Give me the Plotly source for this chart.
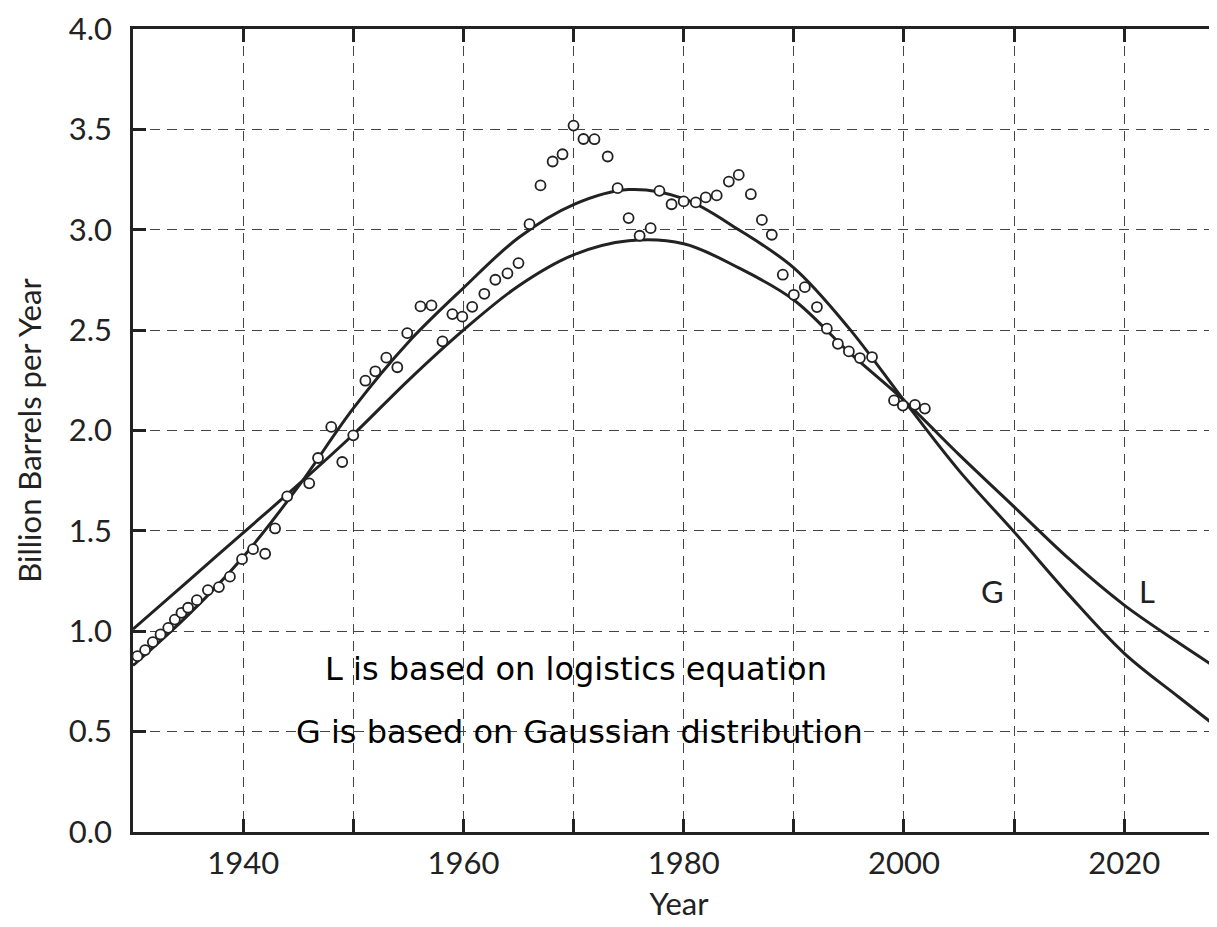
import plotly.graph_objects as go

obs_year = [1929.9, 1930.4, 1931.1, 1931.8, 1932.5, 1933.2, 1933.8, 1934.4, 1935.0, 1935.8,
            1936.8, 1937.8, 1938.8, 1939.9, 1940.9, 1942.0, 1942.9, 1944.0, 1946.0, 1946.8,
            1948.0, 1949.0, 1950.0, 1951.1, 1952.0, 1953.0, 1954.0, 1954.9, 1956.1, 1957.1,
            1958.1, 1959.0, 1959.9, 1960.8, 1961.9, 1962.9, 1964.0, 1965.0, 1966.0, 1967.0,
            1968.1, 1969.0, 1970.0, 1970.9, 1971.9, 1973.1, 1974.0, 1975.0, 1976.0, 1977.0,
            1977.8, 1978.9, 1980.0, 1981.1, 1982.0, 1983.0, 1984.1, 1985.0, 1986.1, 1987.1,
            1988.0, 1989.0, 1990.0, 1991.0, 1992.1, 1993.0, 1994.0, 1995.0, 1996.0, 1997.1,
            1999.1, 1999.9, 2001.0, 2001.9]
obs_prod = [0.86, 0.876, 0.906, 0.946, 0.984, 1.017, 1.058, 1.092, 1.117, 1.155,
            1.205, 1.22, 1.272, 1.359, 1.409, 1.386, 1.512, 1.672, 1.737, 1.863,
            2.018, 1.843, 1.976, 2.248, 2.295, 2.363, 2.315, 2.485, 2.618, 2.623,
            2.444, 2.58, 2.567, 2.616, 2.681, 2.751, 2.783, 2.834, 3.028, 3.221,
            3.34, 3.376, 3.519, 3.452, 3.451, 3.365, 3.207, 3.058, 2.97, 3.008,
            3.194, 3.127, 3.141, 3.136, 3.161, 3.171, 3.24, 3.273, 3.177, 3.049,
            2.975, 2.776, 2.676, 2.714, 2.615, 2.507, 2.432, 2.394, 2.361, 2.366,
            2.15, 2.124, 2.128, 2.109]

# fitted curves
fit_year = [1930, 1935, 1940, 1945, 1950, 1955, 1960, 1965, 1970, 1975, 1980,
            1985, 1990, 1995, 2000, 2005, 2010, 2015, 2020, 2025, 2029.3]
L_fit = [1.01, 1.25, 1.49, 1.73, 1.98, 2.25, 2.50, 2.72, 2.875, 2.945, 2.93,
         2.81, 2.65, 2.39, 2.15, 1.88, 1.62, 1.36, 1.13, 0.94, 0.785]
G_fit = [0.83, 1.08, 1.37, 1.72, 2.11, 2.44, 2.71, 2.96, 3.125, 3.20, 3.155,
         3.00, 2.81, 2.51, 2.15, 1.80, 1.495, 1.18, 0.89, 0.67, 0.486]

x_ticks = [1940, 1950, 1960, 1970, 1980, 1990, 2000, 2010, 2020]
x_labels = ["1940", "", "1960", "", "1980", "", "2000", "", "2020"]

axis_font = dict(family="Lato, 'Open Sans', sans-serif", size=31, color="#222")
title_font = dict(family="Lato, 'Open Sans', sans-serif", size=31, color="#222")
dash = "10px,7px"

fig = go.Figure()
for vals in [L_fit, G_fit]:
    fig.add_trace(go.Scatter(x=fit_year, y=vals, mode="lines",
                             line=dict(color="#222", width=3, shape="spline", smoothing=1.0),
                             showlegend=False, hoverinfo="skip"))

fig.add_trace(go.Scatter(x=obs_year, y=obs_prod, mode="markers",
                         marker=dict(symbol="circle", size=10, color="white",
                                     line=dict(color="#222", width=1.8)),
                         showlegend=False))

# curve labels
fig.add_annotation(x=2008.0, y=1.20, text="G", showarrow=False, font=axis_font)
fig.add_annotation(x=2022.1, y=1.20, text="L", showarrow=False, font=axis_font)

note_font = dict(family="'DejaVu Sans', Verdana, sans-serif", size=32, color="black")
fig.add_annotation(x=1970.2, y=0.81, text="L is based on logistics equation",
                   showarrow=False, font=note_font)
fig.add_annotation(x=1970.5, y=0.50, text="G is based on Gaussian distribution",
                   showarrow=False, font=note_font)

fig.update_xaxes(range=[1930, 2029.15], tickvals=x_ticks, ticktext=x_labels,
                 showgrid=True, gridcolor="#444", gridwidth=1.4, griddash=dash,
                 zeroline=False,
                 showline=True, linecolor="#222", linewidth=2.5, mirror="ticks",
                 ticks="inside", ticklen=13, tickwidth=2.5, tickcolor="#222",
                 title=dict(text="Year", font=title_font, standoff=14),
                 tickfont=axis_font, ticklabelstandoff=2)
fig.update_yaxes(range=[0, 4], dtick=0.5, tickformat=".1f",
                 showgrid=True, gridcolor="#444", gridwidth=1.4, griddash=dash,
                 zeroline=False, showline=True, linecolor="#222", linewidth=2.5,
                 ticks="inside", ticklen=13, tickwidth=2.5, tickcolor="#222",
                 tickfont=axis_font, ticklabelstandoff=12,
                 title=dict(text="Billion Barrels per Year", font=title_font, standoff=18))

fig.update_layout(width=1217, height=927,
                  margin=dict(l=124.5, r=0, t=20.7, b=102.7),
                  plot_bgcolor="white", paper_bgcolor="white")

fig.write_html("out.html")
